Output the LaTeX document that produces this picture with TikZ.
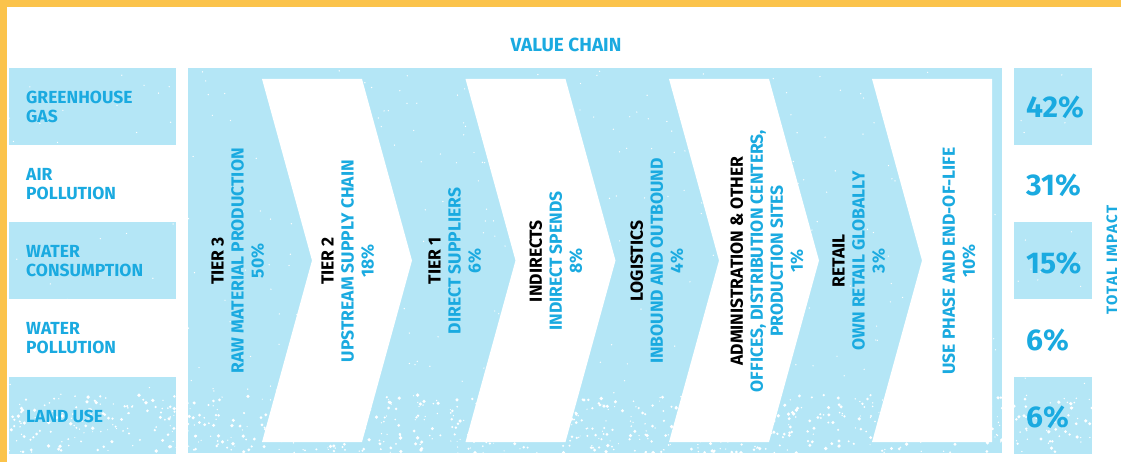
\documentclass[tikz,border=0pt]{standalone}
\usepackage{fontspec}
\setmainfont{Fira Sans}
\definecolor{lb}{HTML}{B4E6F6}
\definecolor{tb}{HTML}{1AAAE0}
\definecolor{yb}{HTML}{FBC34B}
\begin{document}
\begin{tikzpicture}[x=1pt,y=-1pt,
  panel/.style={fill=lb, draw=none},
  rowlabel/.style={anchor=west, align=left, text=tb, font=\fontsize{17.5}{19}\selectfont\bfseries, inner sep=0pt},
  stage/.style={rotate=90, align=center, text=tb, font=\fontsize{17.5}{20}\selectfont\bfseries, inner sep=0pt},
  pct/.style={anchor=base west, text=tb, font=\fontsize{30}{30}\selectfont\bfseries, inner sep=0pt},
  speck/.style={fill=white, draw=none}]
\useasboundingbox (0,0) rectangle (1121,462);
\fill[white] (0,0) rectangle (1121,462);
% yellow frame
\fill[yb] (0,0) rectangle (1121,7);
\fill[yb] (0,0) rectangle (7,462);
% left panels
\fill[panel] (9,68) rectangle (176,145);
\fill[panel] (9,222) rectangle (176,299);
\fill[panel] (9,377) rectangle (176,454);
% right panels
\fill[panel] (1014,68) rectangle (1092,145);
\fill[panel] (1014,222) rectangle (1092,299);
\fill[panel] (1014,377) rectangle (1092,454);
% middle block
\fill[panel] (188,68) rectangle (1002,453);
% speckle texture
\pgfmathsetseed{7}
\foreach \i in {1,...,450}{
  \pgfmathsetmacro\xx{9+rnd*1083}
  \pgfmathsetmacro\yy{68+rnd*385}
  \fill[speck] (\xx,\yy) circle (0.7pt);
}
\foreach \i in {1,...,800}{
  \pgfmathsetmacro\xx{9+rnd*1083}
  \pgfmathsetmacro\yy{395+rnd*58}
  \pgfmathsetmacro\rr{0.5+rnd*1.4}
  \fill[speck] (\xx,\yy) circle (\rr pt);
}
% gaps between columns (keep clean)
\fill[white] (176,60) rectangle (188,462);
\fill[white] (1002,60) rectangle (1014,462);
\fill[white] (1092,60) rectangle (1121,462);
\fill[white] (7,145) rectangle (176,222);
\fill[white] (7,299) rectangle (176,377);
\fill[white] (1014,145) rectangle (1092,222);
\fill[white] (1014,299) rectangle (1092,377);
\fill[white] (7,454) rectangle (1121,462);
% white chevrons
\foreach \L in {262,465.5,669}{
  \fill[white] (\L,79) -- (\L+100,79) -- (\L+150,260.5) -- (\L+100,442) -- (\L,442) -- (\L+50,260.5) -- cycle;
}
\fill[white] (872,79) -- (992,79) -- (992,442) -- (872,442) -- (922,260.5) -- cycle;
% title
\node[text=tb, font=\fontsize{19}{19}\selectfont\bfseries, inner sep=0pt] (title) at (566,45) {VALUE CHAIN};
% row labels
\node[rowlabel] (gh)  at (26,107) {GREENHOUSE\\GAS};
\node[rowlabel] (air) at (26,184) {AIR\\POLLUTION};
\node[rowlabel] (wc)  at (26,261.5) {WATER\\CONSUMPTION};
\node[rowlabel] (wp)  at (26,338.5) {WATER\\POLLUTION};
\node[rowlabel] (lu)  at (26,416) {LAND USE};
% stages
\node[stage] (t3)  at (238,261) {{\color{black}TIER 3}\\RAW MATERIAL PRODUCTION\\50\%};
\node[stage] (t2)  at (348,261) {{\color{black}TIER 2}\\UPSTREAM SUPPLY CHAIN\\18\%};
\node[stage] (t1)  at (455,261) {{\color{black}TIER 1}\\DIRECT SUPPLIERS\\6\%};
\node[stage] (ind) at (556,261) {{\color{black}INDIRECTS}\\INDIRECT SPENDS\\8\%};
\node[stage] (log) at (657,261) {{\color{black}LOGISTICS}\\INBOUND AND OUTBOUND\\4\%};
\node[stage] (adm) at (767,261) {{\color{black}ADMINISTRATION \& OTHER}\\OFFICES, DISTRIBUTION CENTERS,\\PRODUCTION SITES\\1\%};
\node[stage] (ret) at (859,261) {{\color{black}RETAIL}\\OWN RETAIL GLOBALLY\\3\%};
\node[stage] (use) at (959,261) {USE PHASE AND END-OF-LIFE\\10\%};
% percentages
\node[pct] (p1) at (1026,118) {42\%};
\node[pct] (p2) at (1026,195.5) {31\%};
\node[pct] (p3) at (1026,273) {15\%};
\node[pct] (p4) at (1026,350) {6\%};
\node[pct] (p5) at (1026,427.5) {6\%};
\node[rotate=90, anchor=base, text=tb, font=\fontsize{15}{15}\selectfont\bfseries\addfontfeature{LetterSpace=10}, inner sep=0pt] (total) at (1117,260) {TOTAL IMPACT};
\end{tikzpicture}
\end{document}
